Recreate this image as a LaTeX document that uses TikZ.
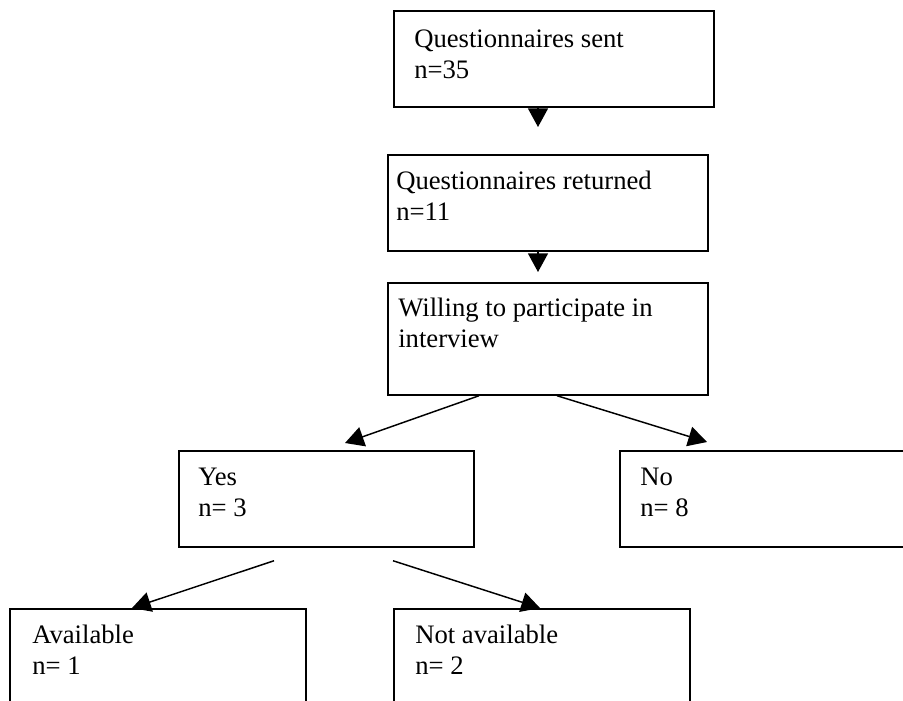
\documentclass[tikz,border=0pt]{standalone}
\usepackage{fontspec}
\setmainfont{Liberation Serif}
\usetikzlibrary{arrows.meta,calc}

\begin{document}
\begin{tikzpicture}[x=0.75pt,y=0.75pt,yscale=-1,xscale=1,
		box/.style={draw, line width=1.3pt, inner sep=0pt, anchor=north west},
		boxtext/.style={anchor=base west, inner sep=0pt, align=left, font=\fontsize{20}{23.25}\selectfont},
		arrowline/.style={line width=1.1pt, -{Triangle[length=14pt,width=15pt]}}]

		% Set diagram size to 903 x 700 and cut off what runs past the edges
		\useasboundingbox (0,0) rectangle (903,700);
		\clip (0,0) rectangle (903,700);

		% Draw the boxes of the top column
		\node[box, minimum width=240pt, minimum height=72pt] (sent) at (393,10) {};
		\node[box, minimum width=240pt, minimum height=72pt] (returned) at (387,154) {};
		\node[box, minimum width=240pt, minimum height=84pt] (willing) at (387,282) {};

		% Draw the Yes / No boxes (No runs past the right edge)
		\node[box, minimum width=221.25pt, minimum height=72pt] (yes) at (178,450) {};
		\node[box, minimum width=240pt, minimum height=72pt] (no) at (619,450) {};

		% Draw the bottom boxes (they run past the bottom edge)
		\node[box, minimum width=222pt, minimum height=75pt] (available) at (9,608) {};
		\node[box, minimum width=222pt, minimum height=75pt] (notavail) at (393,608) {};

		% The texts inside the boxes (base = baseline of the second line)
		\node[boxtext] (sent-text) at ($(sent.north west)+(21,68)$) {Questionnaires sent\\n=35};
		\node[boxtext] (returned-text) at ($(returned.north west)+(9,66)$) {Questionnaires returned\\n=11};
		\node[boxtext] (willing-text) at ($(willing.north west)+(11,65)$) {Willing to participate in\\interview};
		\node[boxtext] (yes-text) at ($(yes.north west)+(20,66)$) {Yes\\n= 3};
		\node[boxtext] (no-text) at ($(no.north west)+(21,66)$) {No\\n= 8};
		\node[boxtext] (available-text) at ($(available.north west)+(23,66)$) {Available\\n= 1};
		\node[boxtext] (notavail-text) at ($(notavail.north west)+(22,66)$) {Not available\\n= 2};

		% Free ends of the arrows
		\coordinate (t1) at ($(returned.north west)+(151,-27)$);
		\coordinate (t2) at ($(willing.north west)+(151,-10)$);
		\coordinate (t3) at ($(yes.north west)+(167,-7)$);
		\coordinate (t4) at ($(no.north west)+(88,-8)$);
		\coordinate (s5) at ($(yes.south west)+(96,13)$);
		\coordinate (s6) at ($(yes.south west)+(215,13)$);

		% Draw the downward arrows
		\draw[arrowline] (sent.south -| t1) -- (t1);
		\draw[arrowline] (returned.south -| t2) -- (t2);

		% Draw the oblique arrows to Yes and No
		\draw[arrowline] ($(willing.south west)+(92,0)$) -- (t3);
		\draw[arrowline] ($(willing.south west)+(170,0)$) -- (t4);

		% Draw the oblique arrows from Yes
		\draw[arrowline] (s5) -- ($(available.north west)+(123,0)$);
		\draw[arrowline] (s6) -- ($(notavail.north west)+(147,0)$);
	\end{tikzpicture}
\end{document}
